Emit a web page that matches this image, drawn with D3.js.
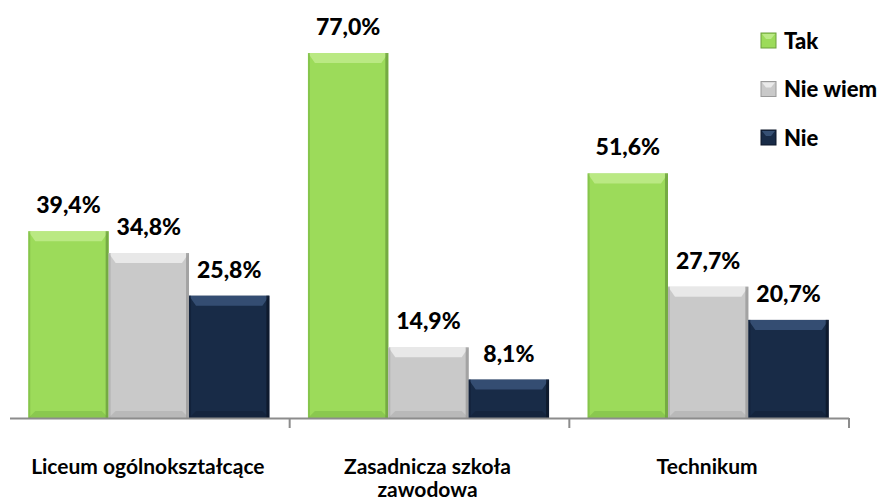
<!DOCTYPE html>
<html>
<head>
<meta charset="utf-8">
<script src="https://cdn.jsdelivr.net/npm/d3@7/dist/d3.min.js"></script>
<style>
  body { margin: 0; background: #fff; }
  svg { display: block; font-family: Lato, "Open Sans", sans-serif; }
</style>
</head>
<body>
<svg id="chart" width="891" height="502"></svg>
<script>
var categories = [['Liceum ogólnokształcące'], ['Zasadnicza szkoła', 'zawodowa'], ['Technikum']];
var seriesNames = ['Tak', 'Nie wiem', 'Nie'];
var tak = [39.4, 77.0, 51.6];
var nieWiem = [34.8, 14.9, 27.7];
var nie = [25.8, 8.1, 20.7];

var colors = {
    'Tak': {base: '#9cdb5a', light: '#c4ee92', dark: '#78b543', edge: '#6c9f3d'},
    'Nie wiem': {base: '#c9c9c9', light: '#f2f2f2', dark: '#a9a9a9', edge: '#9a9a9a'},
    'Nie': {base: '#182b47', light: '#3e5a80', dark: '#0f1d33', edge: '#0c1628'}
};

var svg = d3.select('#chart');
var baseY = 418;

var data = categories.map(function(c, i) {
    return {
        cat: c.join(' '),
        lines: c,
        values: [
            {key: 'Tak', v: tak[i]},
            {key: 'Nie wiem', v: nieWiem[i]},
            {key: 'Nie', v: nie[i]}
        ]
    };
});

var x0 = d3.scaleBand()
    .domain(data.map(function(d){ return d.cat; }))
    .range([10, 849])
    .paddingInner(0)
    .paddingOuter(0);

var x1 = d3.scaleBand()
    .domain(seriesNames)
    .range([0, x0.bandwidth()])
    .paddingOuter(0.24)
    .paddingInner(0);

var y = d3.scaleLinear()
    .domain([0, 77])
    .range([baseY, 53]);

// bars
var groups = svg.selectAll('g.grp')
    .data(data)
    .enter()
    .append('g')
    .attr('class', 'grp')
    .attr('transform', function(d){ return 'translate(' + (x0(d.cat) - 1) + ',0)'; });

var bars = groups.selectAll('g.bar')
    .data(function(d){ return d.values; })
    .enter()
    .append('g')
    .attr('class', 'bar');

var bevel = 7;

bars.each(function(d) {
    var g = d3.select(this);
    var bx = x1(d.key), bw = x1.bandwidth();
    var top = y(d.v), h = baseY - top;
    var c = colors[d.key];
    var b = Math.min(bevel, h / 2);

    g.append('rect')
        .attr('x', bx).attr('y', top)
        .attr('width', bw).attr('height', h)
        .attr('fill', c.base);
    // top highlight
    g.append('polygon')
        .attr('points', [[bx, top], [bx + bw, top], [bx + bw - b, top + b + 3], [bx + b, top + b + 3]].join(' '))
        .attr('fill', c.light).attr('opacity', 0.75);
    // bottom shade
    g.append('polygon')
        .attr('points', [[bx, baseY], [bx + bw, baseY], [bx + bw - b, baseY - b], [bx + b, baseY - b]].join(' '))
        .attr('fill', c.dark).attr('opacity', 0.5);
    // side shades
    g.append('rect')
        .attr('x', bx).attr('y', top)
        .attr('width', 2).attr('height', h)
        .attr('fill', c.dark).attr('opacity', 0.6);
    g.append('rect')
        .attr('x', bx + bw - 3).attr('y', top)
        .attr('width', 3).attr('height', h)
        .attr('fill', c.edge).attr('opacity', 0.8);
});

// value labels
bars.append('text')
    .attr('x', function(d){ return x1(d.key) + x1.bandwidth() / 2; })
    .attr('y', function(d){ return y(d.v) - 18; })
    .attr('text-anchor', 'middle')
    .attr('font-size', 23)
    .attr('font-weight', 900)
    .attr('fill', '#000')
    .text(function(d){ return d.v.toFixed(1).replace('.', ',') + '%'; });

// axis
svg.append('line')
    .attr('x1', 10).attr('x2', 849)
    .attr('y1', baseY + 0.5).attr('y2', baseY + 0.5)
    .attr('stroke', '#8c8c8c').attr('stroke-width', 2);

svg.selectAll('line.tick')
    .data(data)
    .enter()
    .append('line')
    .attr('class', 'tick')
    .attr('x1', function(d){ return x0(d.cat) + x0.bandwidth(); })
    .attr('x2', function(d){ return x0(d.cat) + x0.bandwidth(); })
    .attr('y1', baseY).attr('y2', baseY + 10)
    .attr('stroke', '#8c8c8c').attr('stroke-width', 2);

// category labels
var catText = svg.selectAll('text.cat')
    .data(data)
    .enter()
    .append('text')
    .attr('class', 'cat')
    .attr('text-anchor', 'middle')
    .attr('font-size', 21)
    .attr('font-weight', 'bold')
    .attr('fill', '#000')
    .attr('transform', function(d){ return 'translate(' + (x0(d.cat) + x0.bandwidth() / 2 - 2) + ',474)'; });

catText.selectAll('tspan')
    .data(function(d){ return d.lines; })
    .enter()
    .append('tspan')
    .attr('x', 0)
    .attr('y', function(d, i){ return i * 23; })
    .text(function(d){ return d; });

// legend
var legend = svg.selectAll('g.leg')
    .data(seriesNames)
    .enter()
    .append('g')
    .attr('class', 'leg')
    .attr('transform', function(d, i){ return 'translate(761,' + (33 + i * 48.5) + ')'; });

legend.append('rect')
    .attr('width', 15).attr('height', 15)
    .attr('fill', function(d){ return colors[d].base; })
    .attr('stroke', function(d){ return colors[d].edge; })
    .attr('stroke-width', 1);

legend.append('polygon')
    .attr('points', '1,1 14,1 10,6 5,6')
    .attr('fill', function(d){ return colors[d].light; })
    .attr('opacity', 0.8);

legend.append('text')
    .attr('x', 23)
    .attr('y', 15.5)
    .attr('font-size', 22)
    .attr('font-weight', 900)
    .attr('fill', '#000')
    .text(function(d){ return d; });
</script>
</body>
</html>
